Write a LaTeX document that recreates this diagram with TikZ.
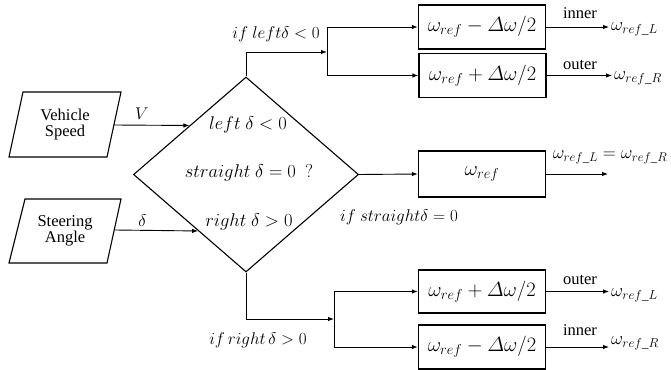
\RequirePackage{fix-cm}
\documentclass[tikz,border=0pt]{standalone}
\usepackage{amsmath}
\usepackage{fontspec}
\setmainfont{Liberation Serif}
\usetikzlibrary{shapes.geometric,arrows.meta,calc}

\begin{document}
\begin{tikzpicture}[x=1pt,y=-1pt,
  every node/.style={font=\fontsize{17}{20}\selectfont},
  outline/.style={line width=1.1pt},
  box/.style={draw, line width=1.3pt, minimum width=127pt, minimum height=44pt,
    inner sep=0pt, font=\fontsize{20.5}{24}\selectfont},
  cond/.style={font=\fontsize{18.5}{22}\selectfont},
  arr/.style={-{Latex[length=6pt,width=4.5pt]}, line width=0.9pt},
  ln/.style={line width=0.9pt},
  lbl/.style={inner sep=1pt, font=\fontsize{16.5}{18}\selectfont},
  outlbl/.style={anchor=west, inner sep=2pt, font=\fontsize{18.5}{22}\selectfont}]
\useasboundingbox (0,0) rectangle (671,369);

% inputs
\node[align=center, inner sep=0pt, lbl] (speed) at (65,124.5) {Vehicle\\[-2pt]Speed};
\draw[outline] (23,92) -- (121,92) -- (107,157) -- (9,157) -- cycle;
\coordinate (speedout) at (114,125);

\node[align=center, inner sep=0pt, lbl] (steer) at (65,231) {Steering\\[-2pt]Angle};
\draw[outline] (25,199) -- (121,199) -- (107,263) -- (9,263) -- cycle;
\coordinate (steerout) at (115,230);

% decision
\node[draw, diamond, minimum width=225pt, minimum height=195pt, inner sep=0pt,
  outline] (dec) at (246,174.5) {};
\node[cond] (dl) at (248,125) {$left\ \delta<0$};
\node[cond] (ds) at (249,173) {$straight\ \delta=0\ \ ?$};
\node[cond] (dr) at (249,222) {$right\ \delta>0$};

\coordinate (vin) at ($(dec.north)!0.5!(dec.west)$);
\coordinate (din) at ($(dec.west)!0.576!(dec.south)$);
\draw[arr] (speedout) -- (vin) node[pos=0.37, above=4pt, inner sep=1pt] (vlab) {$V$};
\draw[arr] (steerout) -- (din) node[pos=0.33, above=2pt, inner sep=1pt] (dlab) {$\delta$};

% speed boxes
\node[box] (b1) at (482,27) {$\omega_{ref}-\varDelta\omega/2$};
\node[box] (b2) at (482.5,75.5) {$\omega_{ref}+\varDelta\omega/2$};
\node[box, minimum height=46pt] (bm) at (482,174) {$\omega_{ref}$};
\node[box, minimum height=43pt] (b3) at (482,291.5) {$\omega_{ref}+\varDelta\omega/2$};
\node[box] (b4) at (482,347) {$\omega_{ref}-\varDelta\omega/2$};

% branch conditions
\node (c1) at (276,34) {$if\ left\delta<0$};
\node (c2) at (399,217) {$if\ straight\delta=0$};
\node (c3) at (258,340) {$if\,right\,\delta>0$};

% left turn branch
\coordinate (j1) at (327,52);
\draw[arr] (dec.north) |- (j1);
\draw[ln] (j1 |- b1) -- (j1 |- b2);
\draw[arr] (j1 |- b1) -- (b1.west);
\draw[arr] (j1 |- b2) -- (b2.west);

% straight branch
\draw[arr] (dec.east) -- (bm.west);

% right turn branch
\coordinate (j2) at (334,319);
\draw[arr] (dec.south) |- (j2);
\draw[ln] (j2 |- b3) -- (j2 |- b4);
\draw[arr] (j2 |- b3) -- (b3.west);
\draw[arr] (j2 |- b4) -- (b4.west);

% outputs
\node[outlbl] (o1) at (609,29) {$\omega_{ref\_L}$};
\node[outlbl] (o2) at (612,78) {$\omega_{ref\_R}$};
\node[outlbl] (o3) at (609,295) {$\omega_{ref\_L}$};
\node[outlbl] (o4) at (609,343) {$\omega_{ref\_R}$};
\coordinate (om) at (608,174);
\node[font=\fontsize{18}{22}\selectfont] (oeq) at (610,157) {$\omega_{ref\_L}=\omega_{ref\_R}$};

\draw[arr] (b1.east) -- (b1.east -| o1.west);
\draw[arr] (b2.east) -- (b2.east -| o2.west);
\draw[arr] (bm.east) -- (om);
\draw[arr] (b3.east) -- (b3.east -| o3.west);
\draw[arr] (b4.east) -- (b4.east -| o4.west);

\node[lbl] (t1) at (580,13) {inner};
\node[lbl] (t2) at (580,65) {outer};
\node[lbl] (t3) at (580,280) {outer};
\node[lbl] (t4) at (580,330) {inner};
\end{tikzpicture}
\end{document}
